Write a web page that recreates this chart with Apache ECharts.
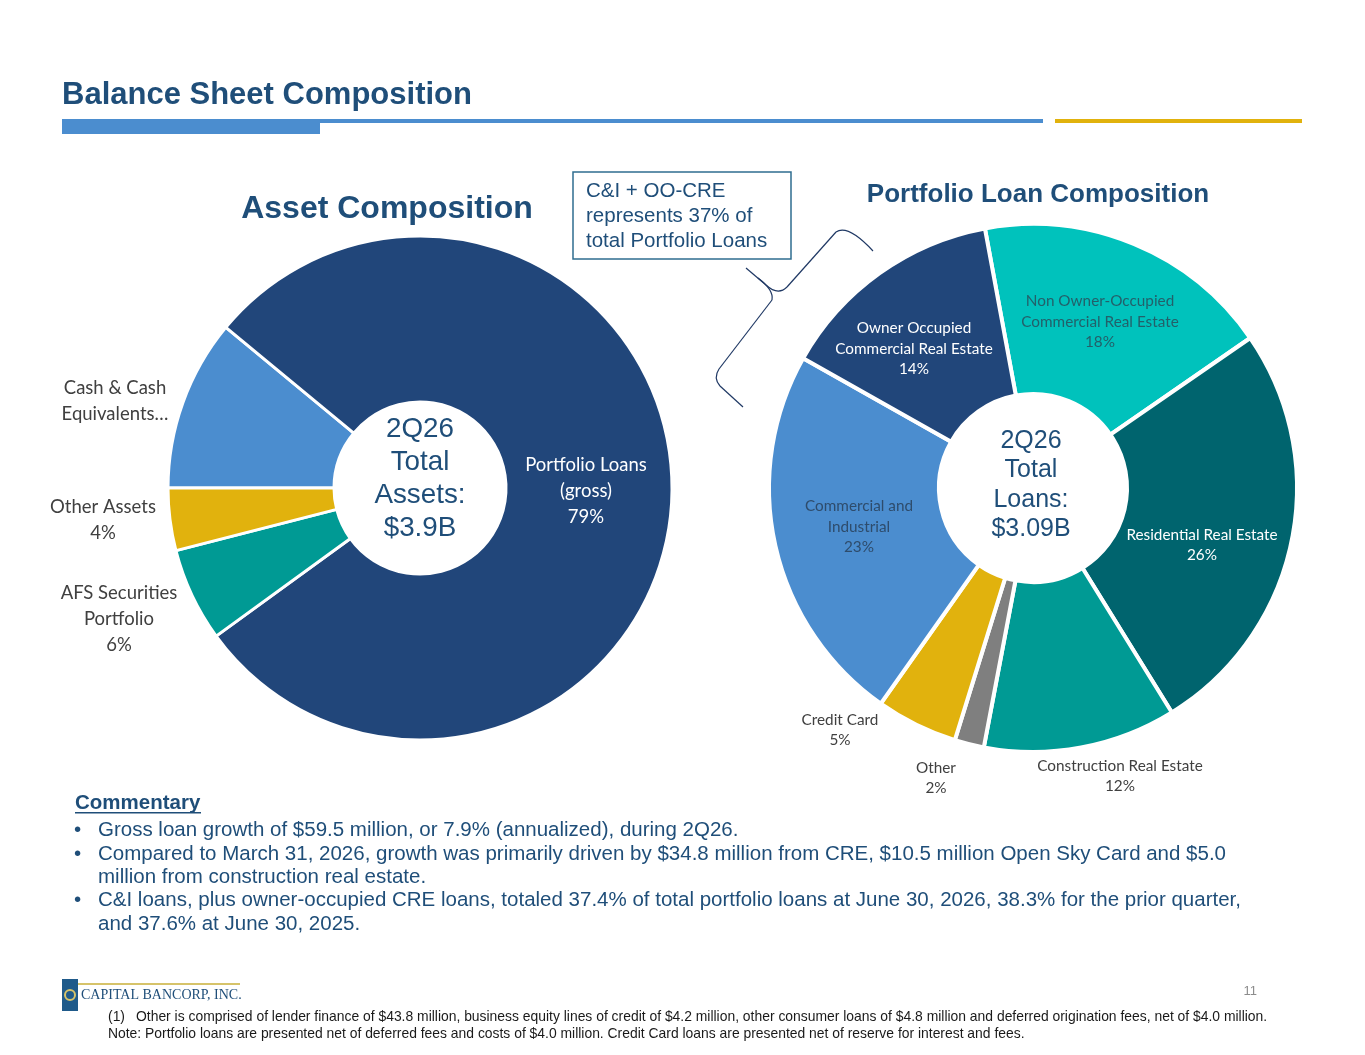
<!DOCTYPE html>
<html>
<head>
<meta charset="utf-8">
<script src="https://cdn.jsdelivr.net/npm/echarts@6/dist/echarts.min.js"></script>
<style>
  html, body { margin: 0; padding: 0; background: #fff; }
  #main { width: 1365px; height: 1055px; }
</style>
</head>
<body>
<div id="main"></div>
<script>
// asset composition (share of total assets, %)
var assetNames = ['Cash & Cash Equivalents', 'Portfolio Loans (gross)', 'AFS Securities Portfolio', 'Other Assets'];
var assetShares = [11, 79, 6, 4];
var assetLabels = ['Cash & Cash\nEquivalents…', 'Portfolio Loans\n(gross)\n79%', 'AFS Securities\nPortfolio\n6%', 'Other Assets\n4%'];

// portfolio loan composition (share of total loans, %)
var loanNames = ['Non Owner-Occupied Commercial Real Estate', 'Residential Real Estate', 'Construction Real Estate',
  'Other', 'Credit Card', 'Commercial and Industrial', 'Owner Occupied Commercial Real Estate'];
var loanShares = [18.3, 25.8, 11.8, 1.8, 5.0, 23.4, 13.9];
var loanLabels = ['Non Owner-Occupied\nCommercial Real Estate', 'Residential Real Estate', 'Construction Real Estate',
  'Other', 'Credit Card', 'Commercial and\nIndustrial', 'Owner Occupied\nCommercial Real Estate'];

var bullets = [
  'Gross loan growth of $59.5 million, or 7.9% (annualized), during 2Q26.',
  'Compared to March 31, 2026, growth was primarily driven by $34.8 million from CRE, $10.5 million Open Sky Card and $5.0\nmillion from construction real estate.',
  'C&I loans, plus owner-occupied CRE loans, totaled 37.4% of total portfolio loans at June 30, 2026, 38.3% for the prior quarter,\nand 37.6% at June 30, 2025.'
];

var NAVY = '#1F4E79';
var ARIAL = '"Liberation Sans", Arial, sans-serif';
var CALIBRI = 'Lato, "Open Sans", sans-serif';

var assetColors = ['#4B8DCF', '#21467A', '#009A94', '#E1B20D'];
var assetTextColors = ['#404040', '#ffffff', '#404040', '#404040'];
var assetLabelInside = [false, true, false, false];
var assetLabelPos = [[115, 401], [586, 491], [119, 619], [103, 520]];

var loanColors = ['#00C2BC', '#00646E', '#009A94', '#7F7F7F', '#E1B20D', '#4B8DCF', '#21467A'];
var loanTextColors = ['#23606A', '#ffffff', '#404040', '#404040', '#404040', '#2E4C6C', '#ffffff'];
var loanLabelInside = [true, true, false, false, false, true, true];
var loanLabelPos = [[1100, 322], [1202, 545], [1120, 776], [936, 778], [840, 730], [859, 527], [914, 349]];

var chart = echarts.init(document.getElementById('main'), null, { renderer: 'canvas' });

var assetData = assetNames.map(function (n, i) {
  return {
    name: n, value: assetShares[i],
    itemStyle: { color: assetColors[i] },
    label: { color: assetTextColors[i], formatter: assetLabels[i], position: assetLabelInside[i] ? 'inside' : 'outside' }
  };
});

var loanData = loanNames.map(function (n, i) {
  return {
    name: n, value: loanShares[i],
    itemStyle: { color: loanColors[i] },
    label: {
      color: loanTextColors[i],
      formatter: loanLabels[i] + '\n' + Math.round(loanShares[i]) + '%',
      position: loanLabelInside[i] ? 'inside' : 'outside'
    }
  };
});

var bulletEls = [];
var y = 819;
bullets.forEach(function (b) {
  var nLines = b.split('\n').length;
  bulletEls.push({ type: 'text', x: 74, y: y, style: { text: '•', font: '20.5px ' + ARIAL, fill: NAVY, lineHeight: 23.3 } });
  bulletEls.push({ type: 'text', x: 98, y: y, style: { text: b, font: '20.5px ' + ARIAL, fill: NAVY, lineHeight: 23.3 } });
  y += nLines * 23.3;
});

var braceStyle = { fill: null, stroke: '#1F3864', lineWidth: 1.2 };
function bz(x1, y1, cx, cy, x2, y2) {
  return { type: 'bezierCurve', shape: { x1: x1, y1: y1, cpx1: cx, cpy1: cy, x2: x2, y2: y2 }, style: braceStyle };
}
function ln(x1, y1, x2, y2) {
  return { type: 'line', shape: { x1: x1, y1: y1, x2: x2, y2: y2 }, style: braceStyle };
}

chart.setOption({
  backgroundColor: '#ffffff',
  animation: false,
  series: [
    {
      type: 'pie',
      center: [420, 488],
      radius: [86, 252],
      startAngle: 180,
      clockwise: true,
      itemStyle: { borderColor: '#ffffff', borderWidth: 3 },
      label: { show: true, fontFamily: CALIBRI, fontSize: 18.5, lineHeight: 26, align: 'center', overflow: 'none' },
      labelLine: { show: false },
      labelLayout: function (p) {
        var pos = assetLabelPos[p.dataIndex];
        return { x: pos[0], y: pos[1], align: 'center', verticalAlign: 'middle' };
      },
      emphasis: { disabled: true },
      data: assetData
    },
    {
      type: 'pie',
      center: [1033, 488],
      radius: [94, 264],
      startAngle: 100.5,
      clockwise: true,
      itemStyle: { borderColor: '#ffffff', borderWidth: 4 },
      label: { show: true, fontFamily: CALIBRI, fontSize: 15.3, lineHeight: 20.5, align: 'center', overflow: 'none' },
      labelLine: { show: false },
      labelLayout: function (p) {
        var pos = loanLabelPos[p.dataIndex];
        return { x: pos[0], y: pos[1], align: 'center', verticalAlign: 'middle' };
      },
      emphasis: { disabled: true },
      data: loanData
    }
  ],
  graphic: [
    // header
    { type: 'text', x: 62, y: 80, style: { text: 'Balance Sheet Composition', font: 'bold 31px ' + ARIAL, fill: NAVY } },
    { type: 'rect', shape: { x: 62, y: 119, width: 981, height: 4 }, style: { fill: '#4B8DCF' } },
    { type: 'rect', shape: { x: 62, y: 119, width: 258, height: 15 }, style: { fill: '#4B8DCF' } },
    { type: 'rect', shape: { x: 1055, y: 119, width: 247, height: 4 }, style: { fill: '#E1B20D' } },

    // chart titles
    { type: 'text', x: 387, y: 209, style: { text: 'Asset Composition', font: 'bold 32px ' + ARIAL, fill: NAVY, align: 'center', verticalAlign: 'middle' } },
    { type: 'text', x: 1038, y: 195, style: { text: 'Portfolio Loan Composition', font: 'bold 26px ' + ARIAL, fill: NAVY, align: 'center', verticalAlign: 'middle' } },

    // center texts
    { type: 'text', x: 420, y: 479, style: { text: '2Q26\nTotal\nAssets:\n$3.9B', font: '27.8px ' + ARIAL, lineHeight: 33, fill: NAVY, align: 'center', verticalAlign: 'middle' } },
    { type: 'text', x: 1031, y: 485, style: { text: '2Q26\nTotal\nLoans:\n$3.09B', font: '25px ' + ARIAL, lineHeight: 29.5, fill: NAVY, align: 'center', verticalAlign: 'middle' } },

    // callout
    { type: 'rect', shape: { x: 573, y: 172, width: 218, height: 87 }, style: { fill: '#ffffff', stroke: '#2F6E90', lineWidth: 1.5 } },
    { type: 'text', x: 586, y: 179, style: { text: 'C&I + OO-CRE\nrepresents 37% of\ntotal Portfolio Loans', font: '20.5px ' + ARIAL, lineHeight: 25, fill: NAVY } },
    bz(873, 251, 848, 224, 836, 232),
    ln(836, 232, 787, 287),
    bz(787, 287, 778, 296, 766, 285),
    ln(766, 285, 746, 268),
    bz(758, 278, 774, 290, 772, 300),
    ln(772, 300, 719, 369),
    bz(719, 369, 713, 378, 720, 386),
    ln(720, 386, 743, 407),

    // commentary
    { type: 'text', x: 75, y: 793, style: { text: 'Commentary', font: 'bold 20.5px ' + ARIAL, fill: NAVY } },
    { type: 'rect', shape: { x: 75, y: 812, width: 126, height: 1.6 }, style: { fill: NAVY } }
  ].concat(bulletEls).concat([
    // footer
    { type: 'text', x: 1257, y: 985, style: { text: '11', font: '13px ' + ARIAL, fill: '#8C8C8C', align: 'right' } },
    { type: 'rect', shape: { x: 62, y: 979, width: 16, height: 32 }, style: { fill: '#1F5A8A' } },
    { type: 'circle', shape: { cx: 70, cy: 995, r: 5 }, style: { fill: null, stroke: '#D6C36A', lineWidth: 2 } },
    { type: 'rect', shape: { x: 78, y: 983, width: 162, height: 2 }, style: { fill: '#D6C36A' } },
    { type: 'text', x: 81, y: 988, style: { text: 'CAPITAL BANCORP, INC.', font: '14px "Liberation Serif", "Times New Roman", serif', fill: '#1F4E79' } },
    { type: 'text', x: 108, y: 1010, style: { text: '(1)', font: '13.9px ' + ARIAL, fill: '#1a1a1a' } },
    { type: 'text', x: 136, y: 1010, style: { text: 'Other is comprised of lender finance of $43.8 million, business equity lines of credit of $4.2 million, other consumer loans of $4.8 million and deferred origination fees, net of $4.0 million.', font: '13.9px ' + ARIAL, fill: '#1a1a1a' } },
    { type: 'text', x: 108, y: 1027, style: { text: 'Note: Portfolio loans are presented net of deferred fees and costs of $4.0 million. Credit Card loans are presented net of reserve for interest and fees.', font: '13.9px ' + ARIAL, fill: '#1a1a1a' } }
  ])
});
</script>
</body>
</html>
